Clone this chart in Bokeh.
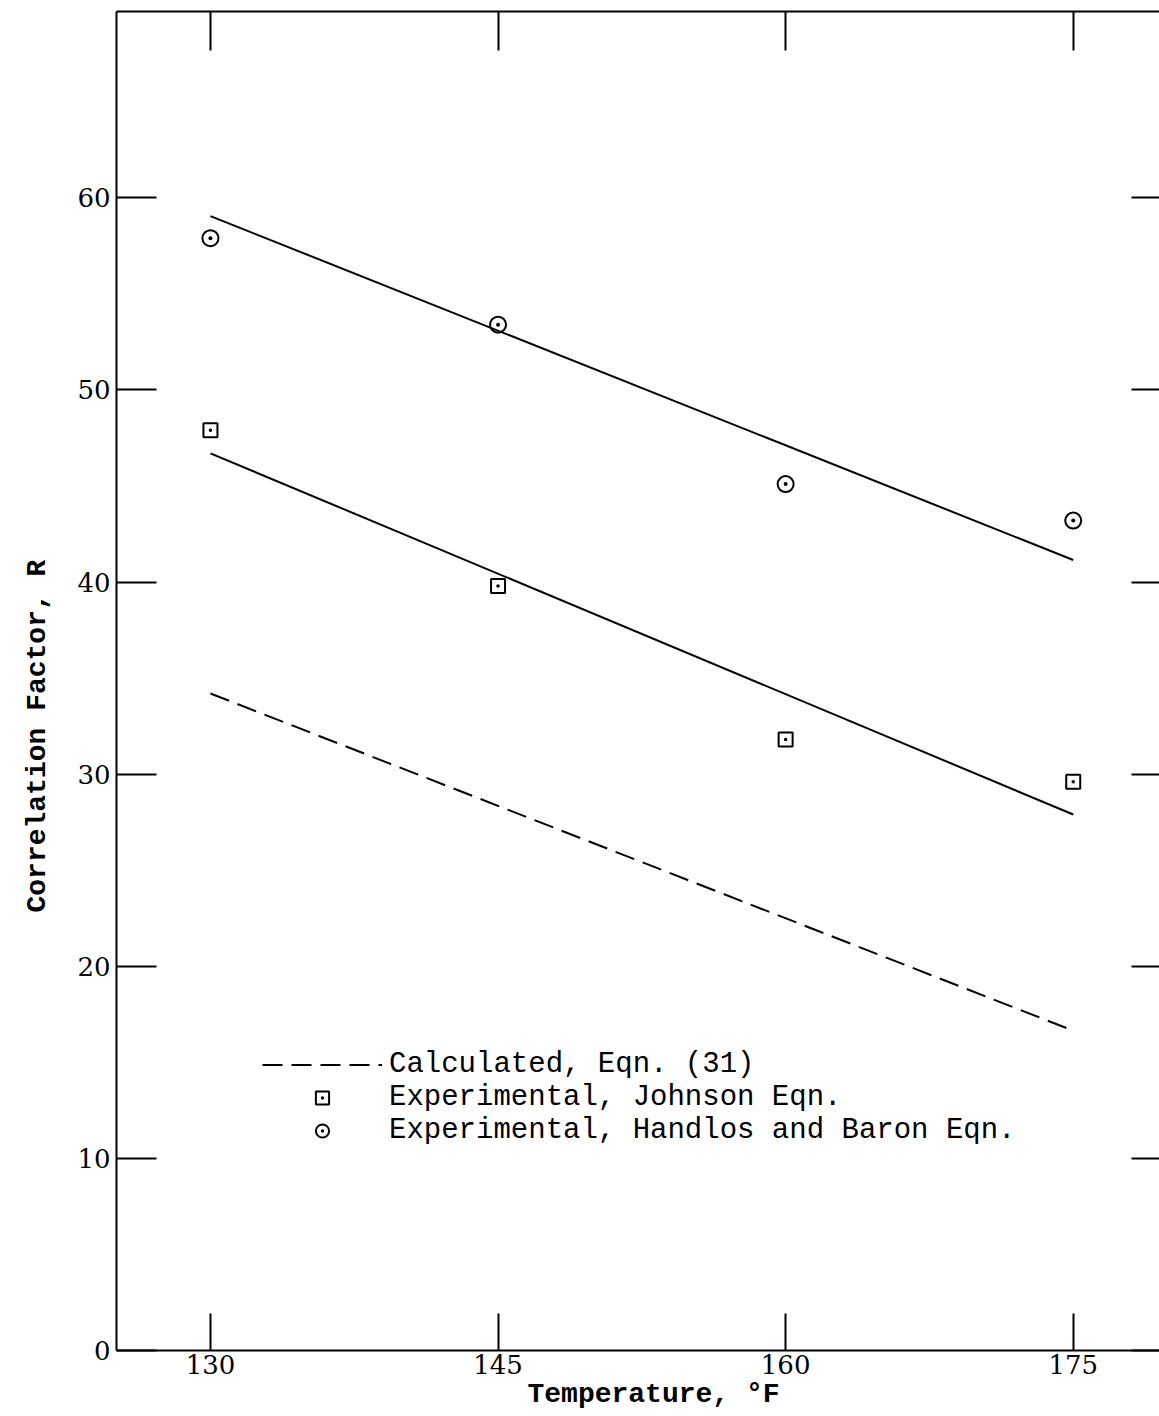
from bokeh.plotting import figure
from bokeh.models import (LinearAxis, Range1d, FixedTicker, CustomJSTickFormatter,
                          Legend, LegendItem, Title)
from bokeh.embed import file_html
from bokeh.resources import INLINE

# ---- data ----
temps = [130, 145, 160, 175]
johnson = [47.9, 39.8, 31.8, 29.6]          # squares
handlos = [57.9, 53.4, 45.1, 43.2]          # circles
fit_x = [130, 175]
fit_handlos = [59.05, 41.15]                # upper solid line
fit_johnson = [46.7, 27.9]                  # lower solid line
calc_eqn31 = [34.2, 16.65]                  # dashed line
x_ticks = [130, 145, 160, 175]
y_ticks = [0, 10, 20, 30, 40, 50, 60]

MONO = "Liberation Mono"
SERIF = "DejaVu Serif"

p = figure(width=1159, height=1416, output_backend="svg", toolbar_location=None,
           x_range=Range1d(125.1, 179.5), y_range=Range1d(0, 69.7),
           x_axis_location="below", y_axis_location="left",
           min_border_left=116, min_border_right=0, min_border_top=11, min_border_bottom=66)
p.outline_line_color = None
p.grid.visible = False
p.background_fill_color = "white"
p.border_fill_color = "white"

def style_axis(ax, tick_in, labels=True):
    ax.axis_line_width = 2
    ax.axis_line_color = "black"
    ax.major_tick_line_width = 2
    ax.major_tick_line_color = "black"
    ax.major_tick_in = tick_in
    ax.major_tick_out = 0
    ax.minor_tick_line_color = None
    if labels:
        ax.major_label_text_font = SERIF
        ax.major_label_text_font_size = "26px"
        ax.major_label_text_color = "black"
    else:
        ax.formatter = CustomJSTickFormatter(code="return ''")
        ax.major_label_standoff = 0
        ax.major_label_text_font_size = "1px"

# bottom axis
xa = p.xaxis[0]
xa.ticker = FixedTicker(ticks=x_ticks)
style_axis(xa, 37)
xa.major_label_standoff = 4

# left axis
ya = p.yaxis[0]
ya.ticker = FixedTicker(ticks=y_ticks)
style_axis(ya, 40)
ya.major_label_standoff = 6

# axis titles (side titles so they can be offset like the original)
xt = Title(text="Temperature, \u00b0F", align="left", offset=411, standoff=0,
           text_font=MONO, text_font_style="bold", text_font_size="28px",
           text_color="black")
p.add_layout(xt, "below")
yt = Title(text="Correlation Factor, R", align="left", offset=438, standoff=40,
           vertical_align="top",
           text_font=MONO, text_font_style="bold", text_font_size="28px",
           text_color="black")
p.add_layout(yt, "left")

# top axis (border with inward ticks)
top = LinearAxis(ticker=FixedTicker(ticks=x_ticks))
style_axis(top, 39, labels=False)
p.add_layout(top, "above")

# right ticks (no axis line visible)
right = LinearAxis(ticker=FixedTicker(ticks=y_ticks))
style_axis(right, 28, labels=False)
right.axis_line_color = None
p.add_layout(right, "right")

# ---- glyphs ----
p.line(fit_x, fit_handlos, line_color="black", line_width=2)
p.line(fit_x, fit_johnson, line_color="black", line_width=2)
r_calc = p.line(fit_x, calc_eqn31, line_color="black", line_width=2, line_dash="20 9")
r_j = p.scatter(temps, johnson, marker="square_dot", size=14, fill_color=None,
                line_color="black", line_width=2)
r_h = p.scatter(temps, handlos, marker="circle_dot", size=16, fill_color=None,
                line_color="black", line_width=2)

legend = Legend(items=[
    LegendItem(label="Calculated, Eqn. (31)", renderers=[r_calc]),
    LegendItem(label="Experimental, Johnson Eqn.", renderers=[r_j]),
    LegendItem(label="Experimental, Handlos and Baron Eqn.", renderers=[r_h]),
], location=(146, 203))
legend.border_line_color = None
legend.background_fill_alpha = 0
legend.padding = 0
legend.margin = 0
legend.spacing = 0
legend.glyph_width = 120
legend.glyph_height = 33
legend.label_height = 33
legend.label_standoff = 7
legend.label_text_font = MONO
legend.label_text_font_size = "29px"
legend.label_text_color = "black"
p.add_layout(legend, "center")

open("out.html", "w").write(file_html(p, INLINE))
